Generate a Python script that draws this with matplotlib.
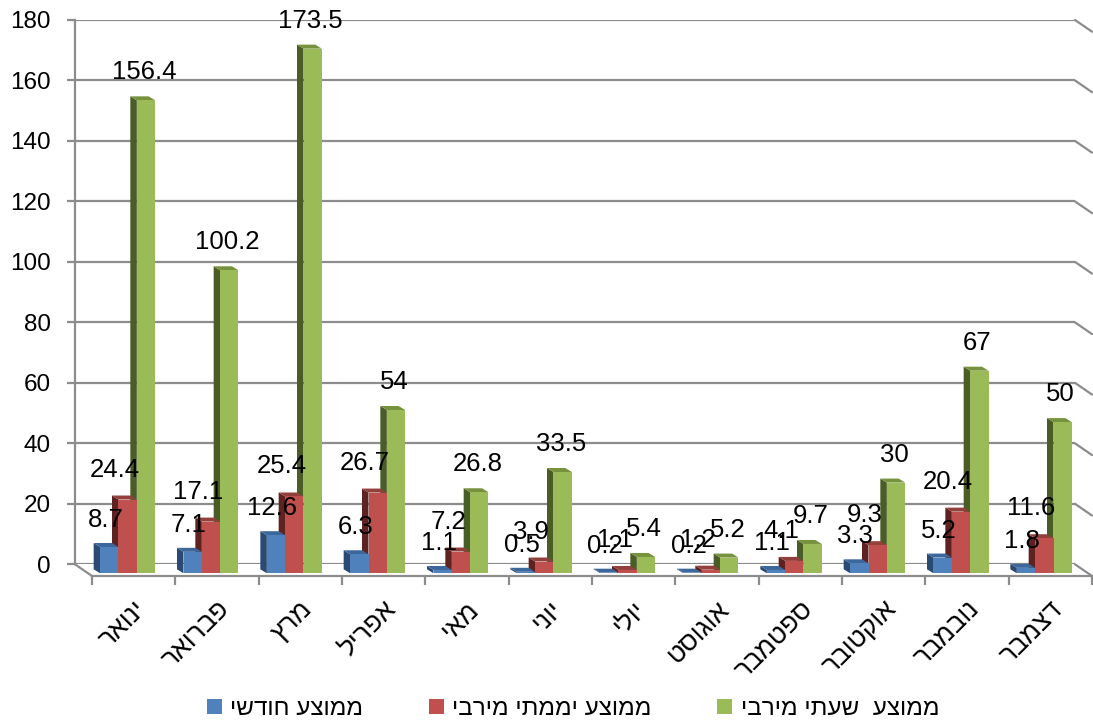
import matplotlib
matplotlib.use("Agg")
import matplotlib.pyplot as plt
from matplotlib.patches import Polygon, Patch, ConnectionPatch
import numpy as np

# ---- data -------------------------------------------------------------
months = ["ינואר", "פברואר", "מרץ", "אפריל", "מאי", "יוני",
          "יולי", "אוגוסט", "ספטמבר", "אוקטובר", "נובמבר", "דצמבר"]
series_names = ["ממוצע חודשי", "ממוצע יממתי מירבי", "ממוצע  שעתי מירבי"]
monthly_avg = [8.7, 7.1, 12.6, 6.3, 1.1, 0.5, 0.2, 0.2, 1.1, 3.3, 5.2, 1.8]
daily_max = [24.4, 17.1, 25.4, 26.7, 7.2, 3.9, 1.1, 1.2, 4.1, 9.3, 20.4, 11.6]
hourly_max = [156.4, 100.2, 173.5, 54, 26.8, 33.5, 5.4, 5.2, 9.7, 30, 67, 50]
y_ticks = list(range(0, 181, 20))

# ---- style ------------------------------------------------------------
FONT = ["Liberation Sans", "DejaVu Sans"]
plt.rcParams["font.family"] = FONT
GRID = "#8c8c8c"
faces = [  # front, side, top
    ("#4F81BD", "#2B4A73", "#3C679C"),
    ("#C0504D", "#5E2321", "#93403D"),
    ("#9BBB59", "#4A5D26", "#76923C"),
]
label_dx_px = [-4, -13, -2]
label_dy_px = [27, 30, 28]


def visual(s):
    """Hebrew is stored in logical order; matplotlib lays text out left to right."""
    return s[::-1]


W, H = 1093, 722
fig = plt.figure(figsize=(W / 100, H / 100), dpi=100)
SCALE = 3.024  # pixels per unit on the value axis
YMAX = 180


def add_plane(left_px, zero_px):
    top_px = zero_px - YMAX * SCALE
    a = fig.add_axes([left_px / W, (H - zero_px) / H, 1000 / W, (zero_px - top_px) / H])
    a.set_xlim(-0.5, 11.5)
    a.set_ylim(0, YMAX)
    a.patch.set_visible(False)
    for sp in a.spines.values():
        sp.set_visible(False)
    a.tick_params(left=False, bottom=False, labelleft=False, labelbottom=False)
    return a


ax_back = add_plane(75, 564.3)    # back wall
ax = add_plane(86, 573.3)         # bars
ax_front = add_plane(92, 576.0)   # front edge of the floor

# back wall with gridlines and value axis
ax_back.set_zorder(0)
ax_back.set_yticks(y_ticks)
ax_back.yaxis.grid(True, color=GRID, lw=1.6)
ax_back.spines["left"].set_visible(True)
ax_back.spines["left"].set_color(GRID)
ax_back.spines["left"].set_linewidth(1.6)
ax_back.tick_params(axis="y", left=True, labelleft=True, direction="out",
                    length=5.5, width=1.6, color=GRID, labelsize=17.5, pad=12)

# right wall edges and left floor edge
for y in y_ticks:
    fig.add_artist(ConnectionPatch((11.5, y), (11.5, y), coordsA=ax_back.transData,
                                   coordsB=ax_front.transData, color=GRID, lw=1.6))
fig.add_artist(ConnectionPatch((-0.5, 0), (-0.5, 0), coordsA=ax_back.transData,
                               coordsB=ax_front.transData, color=GRID, lw=1.6))

# front floor edge with category ticks and month labels
ax_front.set_zorder(1)
ax_front.spines["bottom"].set_visible(True)
ax_front.spines["bottom"].set_color(GRID)
ax_front.spines["bottom"].set_linewidth(1.6)
ax_front.set_xticks(np.arange(-0.5, 12, 1))
ax_front.tick_params(axis="x", which="major", bottom=True, direction="out",
                     length=6.5, width=1.6, color=GRID)
ax_front.set_xticks(np.arange(len(months)), labels=[visual(m) for m in months], minor=True)
ax_front.tick_params(axis="x", which="minor", bottom=True, length=0, labelbottom=True,
                     labelsize=19, pad=15)
for lab in ax_front.get_xticklabels(minor=True):
    lab.set_rotation(45)
    lab.set_ha("right")
    lab.set_va("top")
    lab.set_rotation_mode("anchor")

# bars with visible left side and top faces
ax.set_zorder(2)
bar_w = 0.22
px_x = 1000 / 12.0
depth_dx = -6.5 / px_x
depth_dy = 4.0 / SCALE
series = [monthly_avg, daily_max, hourly_max]
x = np.arange(len(months))
for s in (2, 1, 0):
    vals = np.asarray(series[s], dtype=float)
    xs = x + (s - 1) * bar_w
    front, side, top = faces[s]
    z = 3 + (2 - s)
    for xc, v in zip(xs, vals):
        x0, x1 = xc - bar_w / 2, xc + bar_w / 2
        ax.add_patch(Polygon([(x0, 0), (x0, v), (x0 + depth_dx, v + depth_dy),
                              (x0 + depth_dx, depth_dy)], closed=True,
                             facecolor=side, edgecolor="none", zorder=z))
        ax.add_patch(Polygon([(x0, v), (x1, v), (x1 + depth_dx, v + depth_dy),
                              (x0 + depth_dx, v + depth_dy)], closed=True,
                             facecolor=top, edgecolor="none", zorder=z))
    ax.bar(xs, vals, width=bar_w, color=front, linewidth=0, zorder=z)
    for xc, v in zip(xs, vals):
        ax.annotate(f"{v:g}", xy=(xc, v),
                    xytext=(label_dx_px[s] * 0.72, label_dy_px[s] * 0.72),
                    textcoords="offset points", ha="center", va="center",
                    fontsize=18.5, color="black", zorder=10, annotation_clip=False)

# legend
handles = [Patch(facecolor=faces[i][0], edgecolor="none", label=visual(series_names[i]))
           for i in range(3)]
fig.legend(handles=handles, loc="center", bbox_to_anchor=(573 / W, 1 - 709 / H),
           ncol=3, frameon=False, fontsize=17.5, handlelength=0.62, handleheight=0.62,
           handletextpad=0.35, columnspacing=2.7)

fig.savefig("out.png", dpi=100)
